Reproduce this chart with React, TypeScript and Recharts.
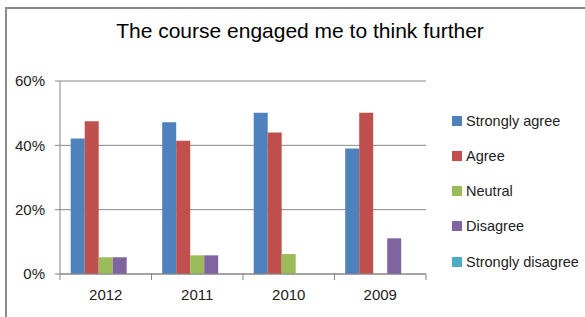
import { BarChart, Bar, XAxis, YAxis, CartesianGrid } from "recharts";

const years = ["2012", "2011", "2010", "2009"];
const stronglyAgree = [42.1, 47.2, 50.1, 39];
const agree = [47.5, 41.4, 44, 50.1];
const neutral = [5.2, 5.8, 6.2, 0];
const disagree = [5.2, 5.8, 0, 11.1];
const stronglyDisagree = [0, 0, 0, 0];
const yTicks = [0, 20, 40, 60];

const seriesNames = ["Strongly agree", "Agree", "Neutral", "Disagree", "Strongly disagree"];
const seriesValues = [stronglyAgree, agree, neutral, disagree, stronglyDisagree];
const seriesColors = ["#4F81BD", "#C0504D", "#9BBB59", "#8064A2", "#4BACC6"];

const data = years.map((year, i) => {
  const row: Record<string, string | number> = { year };
  seriesNames.forEach((name, s) => {
    row[name] = seriesValues[s][i];
  });
  return row;
});

const FONT = "'Liberation Sans', Arial, sans-serif";
const AXIS = "#868686";
const W = 585;
const H = 317;
const PLOT_LEFT = 60;
const PLOT_RIGHT = 426;
const BAND = (PLOT_RIGHT - PLOT_LEFT) / years.length;

function YearTick(props: any) {
  const { x, y, payload, index } = props;
  const half = payload?.offset || BAND / 2;
  return (
    <g>
      <line x1={x - half} x2={x - half} y1={y} y2={y + 6} stroke={AXIS} />
      {index === years.length - 1 && (
        <line x1={x + half} x2={x + half} y1={y} y2={y + 6} stroke={AXIS} />
      )}
      <text
        x={x}
        y={y + 15}
        dy="0.71em"
        textAnchor="middle"
        fill="#222"
        fontSize={15}
        fontFamily={FONT}
      >
        {payload.value}
      </text>
    </g>
  );
}

export default function App() {
  return (
    <div
      style={{
        position: "absolute",
        left: 0,
        top: 0,
        width: W,
        height: H,
        background: "#fff",
        overflow: "hidden",
        fontFamily: FONT,
      }}
    >
      <div
        style={{
          position: "absolute",
          left: 5,
          top: 7,
          width: W - 5,
          height: H,
          borderTop: "2px solid #8a8a8a",
          borderLeft: "2px solid #8a8a8a",
          boxSizing: "border-box",
        }}
      />
      <div
        style={{
          position: "absolute",
          left: 0,
          top: 19,
          width: 600,
          textAlign: "center",
          fontSize: 21,
          lineHeight: "24px",
          color: "#000",
          whiteSpace: "nowrap",
        }}
      >
        The course engaged me to think further
      </div>
      <div style={{ position: "absolute", left: 0, top: 0 }}>
        <BarChart
          width={W}
          height={H}
          data={data}
          margin={{ top: 81, right: W - PLOT_RIGHT, bottom: 0, left: 0 }}
          barCategoryGap="11.7%"
          barGap={0}
        >
          <CartesianGrid vertical={false} stroke={AXIS} strokeWidth={1} />
          <XAxis
            dataKey="year"
            height={43}
            tickSize={0}
            tickMargin={0}
            tickLine={false}
            axisLine={{ stroke: AXIS }}
            tick={<YearTick />}
            interval={0}
          />
          <YAxis
            width={PLOT_LEFT}
            domain={[0, 60]}
            ticks={yTicks}
            tickSize={5}
            tickMargin={10}
            tickLine={{ stroke: AXIS }}
            axisLine={{ stroke: AXIS }}
            tickFormatter={(v: number) => `${v}%`}
            tick={{ fill: "#222", fontSize: 15, fontFamily: FONT }}
          />
          {seriesNames.map((name, s) => (
            <Bar
              key={name}
              dataKey={name}
              fill={seriesColors[s]}
              isAnimationActive={false}
            />
          ))}
        </BarChart>
      </div>
      <div style={{ position: "absolute", left: 452, top: 0 }}>
        {seriesNames.map((name, s) => (
          <div
            key={name}
            style={{
              position: "absolute",
              left: 0,
              top: 120.5 + s * 35.3 - 10,
              height: 20,
              display: "flex",
              alignItems: "center",
              whiteSpace: "nowrap",
              fontSize: 14.5,
              color: "#222",
            }}
          >
            <span
              style={{
                display: "inline-block",
                width: 10,
                height: 10,
                background: seriesColors[s],
                marginRight: 4,
              }}
            />
            {name}
          </div>
        ))}
      </div>
    </div>
  );
}
